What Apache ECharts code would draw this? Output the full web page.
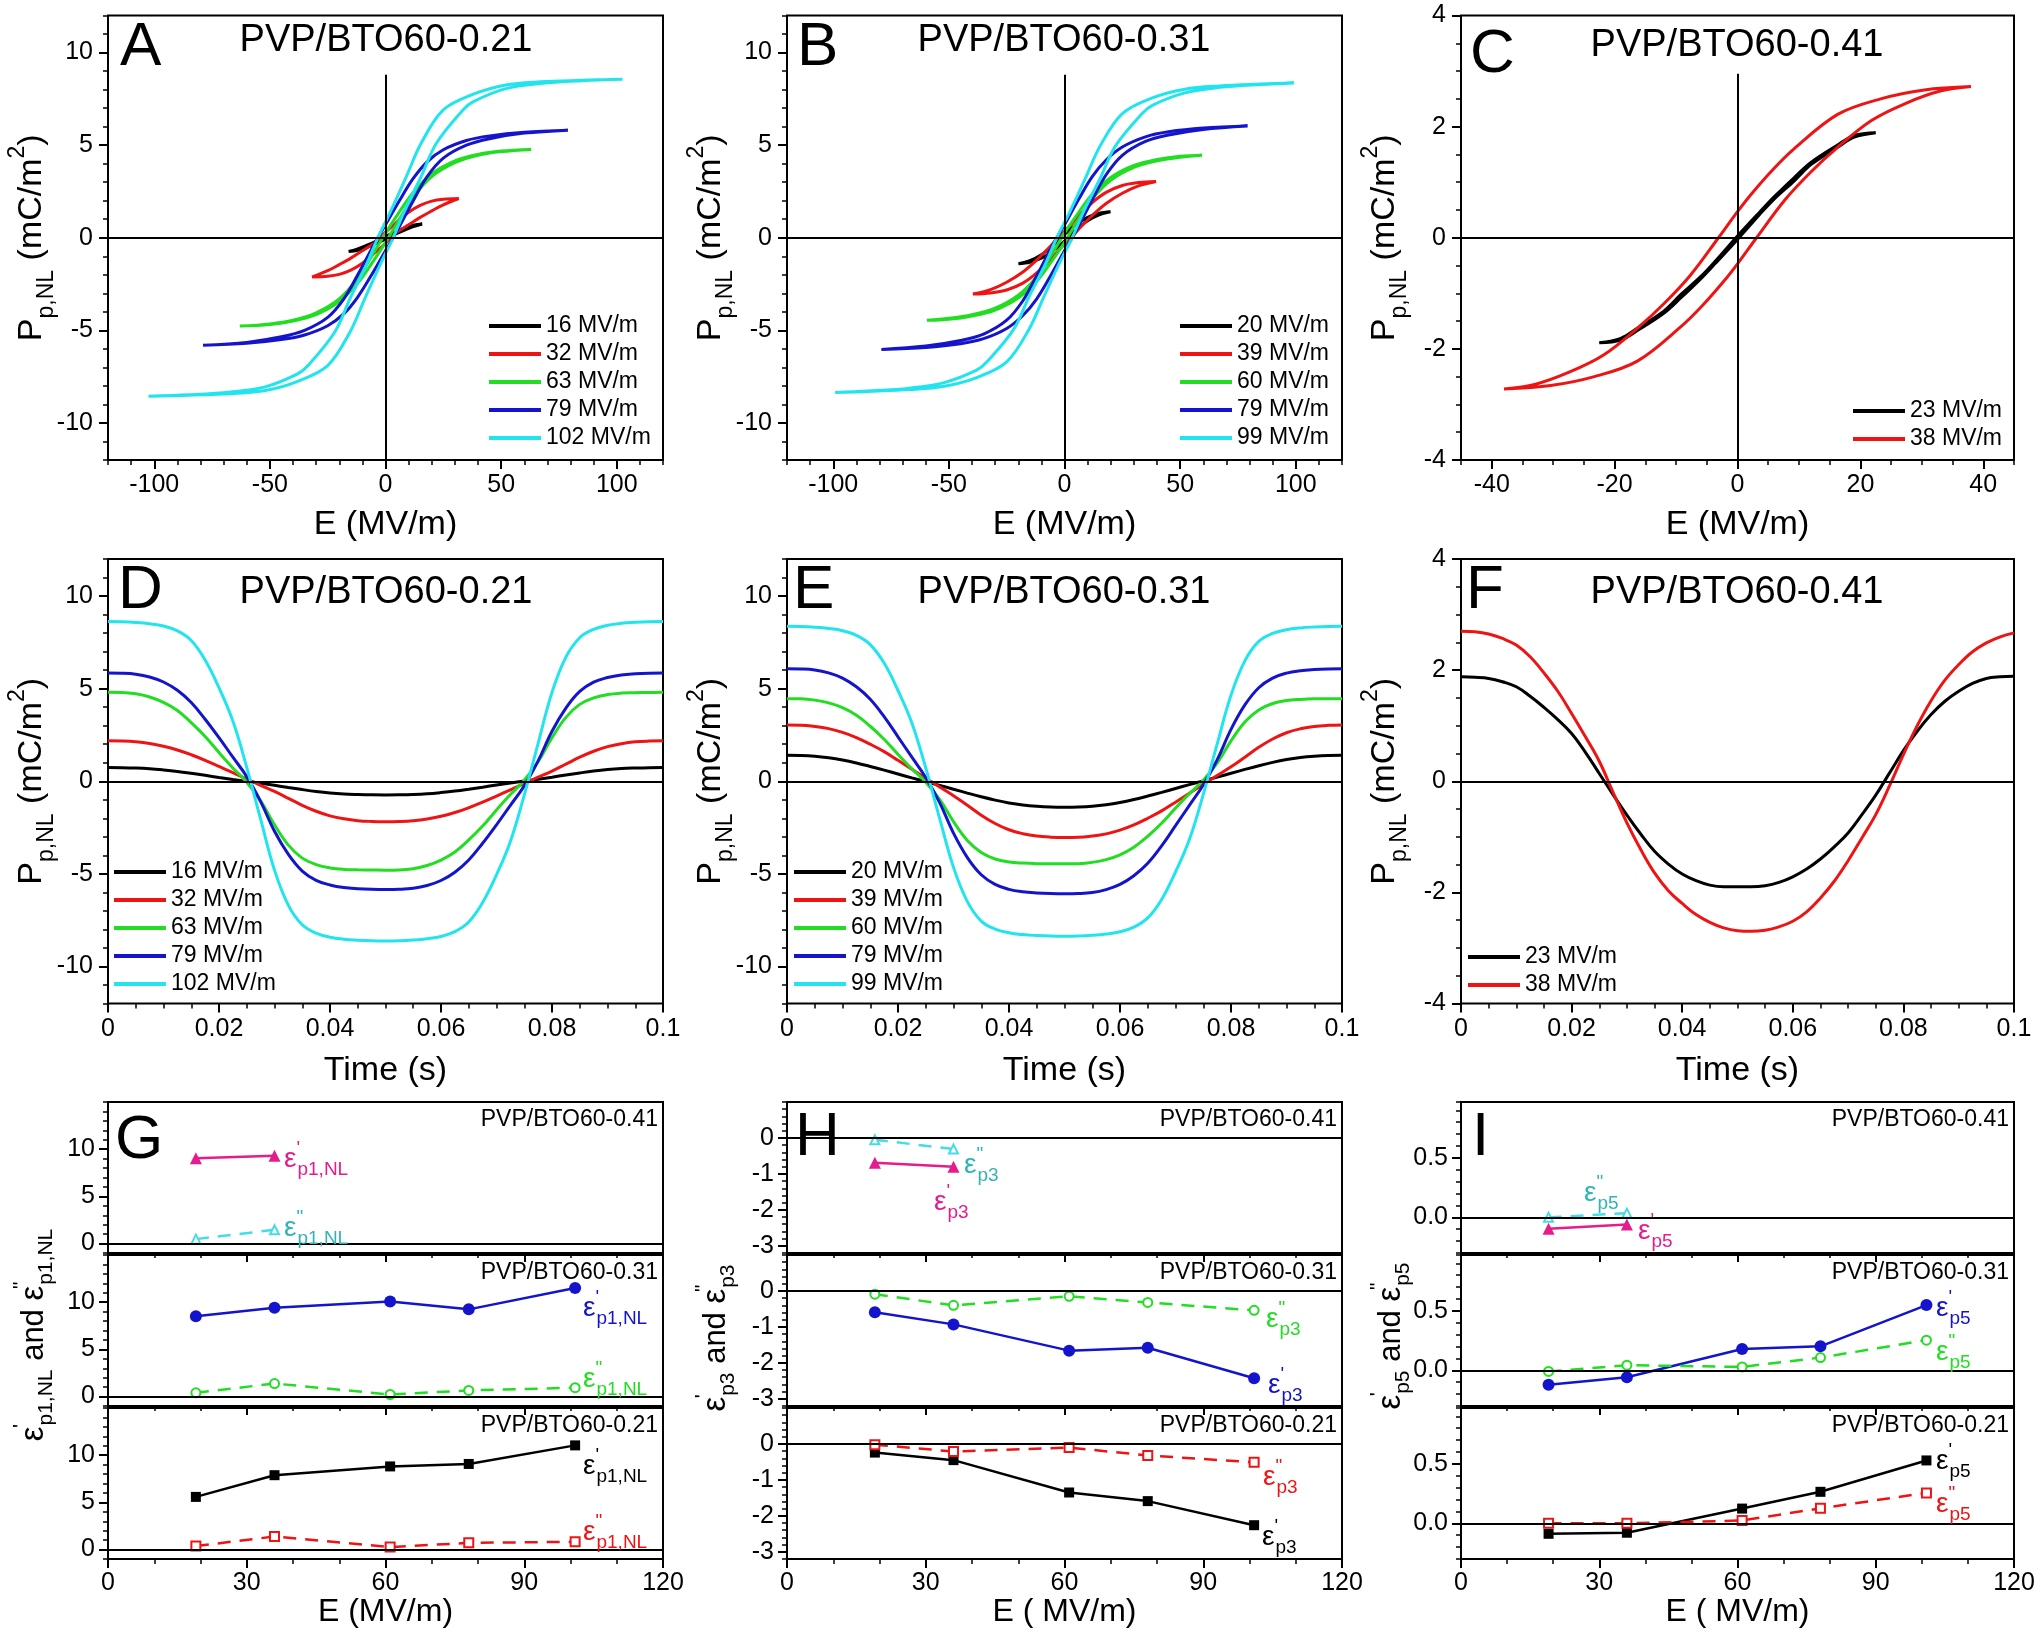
<!DOCTYPE html>
<html>
<head>
<meta charset="utf-8">
<script src="https://cdn.jsdelivr.net/npm/echarts@6/dist/echarts.min.js"></script>
<style>
  html, body { margin: 0; padding: 0; background: #fff; }
  #main { width: 2042px; height: 1635px; }
</style>
</head>
<body>
<div id="main"></div>
<script>
var FONT = 'Liberation Sans, Arial, sans-serif';
var BLACK = '#000000', RED = '#ee1414', GREEN = '#22dd22', BLUE = '#1414cc', CYAN = '#22e4ee';
var MAGENTA = '#e41c8c', TEAL = '#30b4b4', LCYAN = '#44dde6';

// ---------- A : P-E loops, PVP/BTO60-0.21 ----------
var namesA = ['16 MV/m', '32 MV/m', '63 MV/m', '79 MV/m', '102 MV/m'];
var loopA16 = [[15.9,0.74],[12,0.68],[8,0.52],[4,0.3],[0,0.07],[-4,-0.18],[-8,-0.4],[-12,-0.6],[-15.9,-0.74],
  [-12,-0.68],[-8,-0.52],[-4,-0.3],[0,-0.07],[4,0.18],[8,0.4],[12,0.6],[15.9,0.74]];
var loopA32 = [[31.7,2.12],[25,2.08],[20,1.98],[15,1.75],[10,1.38],[5,0.85],[0,0.3],[-5,-0.3],[-10,-0.7],[-15,-1.1],[-20,-1.45],[-25,-1.78],[-31.7,-2.12],
  [-25,-2.08],[-20,-1.98],[-15,-1.75],[-10,-1.38],[-5,-0.85],[0,-0.3],[5,0.3],[10,0.7],[15,1.1],[20,1.45],[25,1.78],[31.7,2.12]];
var loopA63 = [[63,4.77],[50,4.68],[40,4.5],[30,4.15],[20,3.45],[12,2.45],[6,1.4],[0,0.25],[-6,-1.0],[-12,-2.2],[-20,-3.3],[-30,-4.05],[-40,-4.45],[-50,-4.65],[-63,-4.77],
  [-50,-4.68],[-40,-4.5],[-30,-4.15],[-20,-3.45],[-12,-2.45],[-6,-1.4],[0,-0.25],[6,1.0],[12,2.2],[20,3.3],[30,4.05],[40,4.45],[50,4.65],[63,4.77]];
var loopA79 = [[78.9,5.81],[60,5.7],[45,5.5],[35,5.25],[25,4.75],[18,4.1],[12,3.2],[6,2.0],[0,0.7],[-3.3,0],[-6,-0.6],[-12,-2.0],[-18,-3.3],[-25,-4.3],[-35,-5.0],[-45,-5.35],[-60,-5.65],[-78.9,-5.81],
  [-60,-5.7],[-45,-5.5],[-35,-5.25],[-25,-4.75],[-18,-4.1],[-12,-3.2],[-6,-2.0],[0,-0.7],[3.3,0],[6,0.6],[12,2.0],[18,3.3],[25,4.3],[35,5.0],[45,5.35],[60,5.65],[78.9,5.81]];
var loopA102 = [[102.5,8.56],[85,8.5],[67,8.42],[52,8.25],[38,7.75],[25,6.9],[15.4,5.1],[9,3.3],[2.5,1.5],[-3.3,0],[-8.4,-1.5],[-15.4,-3.3],[-22,-5.1],[-33.5,-6.9],[-38,-7.35],[-52,-8.05],[-67,-8.33],[-85,-8.48],[-102.5,-8.56],
  [-85,-8.5],[-67,-8.42],[-52,-8.25],[-38,-7.75],[-25,-6.9],[-15.4,-5.1],[-9,-3.3],[-2.5,-1.5],[3.3,0],[8.4,1.5],[15.4,3.3],[22,5.1],[33.5,6.9],[38,7.35],[52,8.05],[67,8.33],[85,8.48],[102.5,8.56]];

// ---------- B : P-E loops, PVP/BTO60-0.31 ----------
var namesB = ['20 MV/m', '39 MV/m', '60 MV/m', '79 MV/m', '99 MV/m'];
var loopB20 = [[19.9,1.4],[15,1.32],[10,1.1],[5,0.72],[0,0.18],[-5,-0.42],[-10,-0.92],[-15,-1.24],[-19.9,-1.4],
  [-15,-1.32],[-10,-1.1],[-5,-0.72],[0,-0.18],[5,0.42],[10,0.92],[15,1.24],[19.9,1.4]];
var loopB39 = [[39.6,3.04],[32,2.98],[25,2.82],[18,2.45],[12,1.9],[6,1.15],[0,0.35],[-3,0],[-6,-0.45],[-12,-1.2],[-18,-1.85],[-25,-2.4],[-32,-2.8],[-39.6,-3.04],
  [-32,-2.98],[-25,-2.82],[-18,-2.45],[-12,-1.9],[-6,-1.15],[0,-0.35],[3,0],[6,0.45],[12,1.2],[18,1.85],[25,2.4],[32,2.8],[39.6,3.04]];
var loopB60 = [[59.5,4.46],[50,4.4],[40,4.22],[30,3.9],[20,3.25],[12,2.35],[6,1.35],[0,0.25],[-6,-1.0],[-12,-2.1],[-20,-3.1],[-30,-3.8],[-40,-4.15],[-50,-4.35],[-59.5,-4.46],
  [-50,-4.4],[-40,-4.22],[-30,-3.9],[-20,-3.25],[-12,-2.35],[-6,-1.35],[0,-0.25],[6,1.0],[12,2.1],[20,3.1],[30,3.8],[40,4.15],[50,4.35],[59.5,4.46]];
var loopB79 = [[79.2,6.03],[60,5.92],[45,5.72],[35,5.45],[25,4.9],[18,4.2],[12,3.3],[6,2.05],[0,0.7],[-3.3,0],[-6,-0.6],[-12,-2.05],[-18,-3.4],[-25,-4.45],[-35,-5.2],[-45,-5.55],[-60,-5.85],[-79.2,-6.03],
  [-60,-5.92],[-45,-5.72],[-35,-5.45],[-25,-4.9],[-18,-4.2],[-12,-3.3],[-6,-2.05],[0,-0.7],[3.3,0],[6,0.6],[12,2.05],[18,3.4],[25,4.45],[35,5.2],[45,5.55],[60,5.85],[79.2,6.03]];
var loopB99 = [[99.2,8.36],[85,8.3],[67,8.2],[52,8.02],[38,7.55],[25,6.7],[15.4,4.95],[9,3.2],[2.5,1.45],[-3.3,0],[-8.4,-1.45],[-15.4,-3.2],[-22,-4.95],[-33.5,-6.7],[-38,-7.15],[-52,-7.82],[-67,-8.12],[-85,-8.28],[-99.2,-8.36],
  [-85,-8.3],[-67,-8.2],[-52,-8.02],[-38,-7.55],[-25,-6.7],[-15.4,-4.95],[-9,-3.2],[-2.5,-1.45],[3.3,0],[8.4,1.45],[15.4,3.2],[22,4.95],[33.5,6.7],[38,7.15],[52,7.82],[67,8.12],[85,8.28],[99.2,8.36]];

// ---------- C : P-E loops, PVP/BTO60-0.41 ----------
var namesC = ['23 MV/m', '38 MV/m'];
var loopC23 = [[22.5,1.89],[19,1.84],[16.3,1.67],[12,1.36],[9.2,1.08],[6,0.74],[3.6,0.46],[0,0.03],[-3.6,-0.42],[-6,-0.7],[-9.2,-1.02],[-12,-1.32],[-16.3,-1.63],[-19,-1.81],[-22.5,-1.89],
  [-19,-1.84],[-16.3,-1.67],[-12,-1.36],[-9.2,-1.08],[-6,-0.74],[-3.6,-0.46],[0,-0.03],[3.6,0.42],[6,0.7],[9.2,1.02],[12,1.32],[16.3,1.63],[19,1.81],[22.5,1.89]];
var loopC38 = [[38,2.72],[30.4,2.66],[23.3,2.5],[16.3,2.22],[9.2,1.6],[5.7,1.22],[2.2,0.78],[0,0.47],[-3.1,0],[-7.7,-0.68],[-11.9,-1.18],[-16.1,-1.61],[-21.8,-2.11],[-27.4,-2.42],[-33,-2.64],[-38,-2.72],
  [-30.4,-2.66],[-23.3,-2.5],[-16.3,-2.22],[-9.2,-1.6],[-5.7,-1.22],[-2.2,-0.78],[0,-0.47],[3.1,0],[7.7,0.68],[11.9,1.18],[16.1,1.61],[21.8,2.11],[27.4,2.42],[33,2.64],[38,2.72]];

// ---------- D, E, F : P vs time ----------
var tD = [0,0.0025,0.005,0.0075,0.01,0.0125,0.015,0.0175,0.02,0.0225,0.025,0.0275,0.03,0.0325,0.035,0.0375,0.04,0.0425,0.045,0.0475,0.05,
  0.0525,0.055,0.0575,0.06,0.0625,0.065,0.0675,0.07,0.0725,0.075,0.0775,0.08,0.0825,0.085,0.0875,0.09,0.0925,0.095,0.0975,0.1];

var pD16 = [0.74,0.735,0.715,0.675,0.61,0.53,0.43,0.32,0.2,0.09,-0.01,-0.11,-0.22,-0.34,-0.45,-0.55,-0.63,-0.685,-0.715,-0.735,-0.74,
  -0.735,-0.715,-0.675,-0.61,-0.53,-0.43,-0.32,-0.2,-0.09,0.01,0.11,0.22,0.34,0.45,0.55,0.63,0.685,0.715,0.735,0.74];
var pD32 = [2.18,2.17,2.13,2.04,1.89,1.69,1.43,1.13,0.8,0.46,0.12,-0.22,-0.55,-0.92,-1.3,-1.62,-1.87,-2.03,-2.13,-2.17,-2.18,
  -2.17,-2.13,-2.04,-1.89,-1.69,-1.43,-1.13,-0.8,-0.46,-0.12,0.22,0.55,0.92,1.3,1.62,1.87,2.03,2.13,2.17,2.18];
var pD63 = [4.8,4.79,4.72,4.55,4.26,3.82,3.17,2.42,1.55,0.72,-0.05,-1.05,-2.35,-3.45,-4.15,-4.5,-4.68,-4.76,-4.78,-4.79,-4.8,
  -4.79,-4.72,-4.55,-4.26,-3.82,-3.17,-2.42,-1.55,-0.72,0.05,1.05,2.35,3.45,4.15,4.5,4.68,4.76,4.78,4.79,4.8];
var pD79 = [5.84,5.83,5.78,5.63,5.36,4.91,4.25,3.35,2.35,1.3,0.25,-1.1,-2.7,-3.95,-4.85,-5.35,-5.6,-5.74,-5.8,-5.83,-5.84,
  -5.83,-5.78,-5.63,-5.36,-4.91,-4.25,-3.35,-2.35,-1.3,-0.25,1.1,2.7,3.95,4.85,5.35,5.6,5.74,5.8,5.83,5.84];
var pD102 = [8.62,8.61,8.57,8.5,8.38,8.12,7.6,6.55,5.05,3.25,0.75,-2.05,-4.8,-6.7,-7.75,-8.2,-8.42,-8.53,-8.58,-8.61,-8.62,
  -8.61,-8.57,-8.5,-8.38,-8.12,-7.6,-6.55,-5.05,-3.25,-0.75,2.05,4.8,6.7,7.75,8.2,8.42,8.53,8.58,8.61,8.62];

var pE20 = [1.4,1.39,1.35,1.27,1.15,0.99,0.8,0.6,0.39,0.18,-0.02,-0.22,-0.43,-0.64,-0.84,-1.02,-1.17,-1.28,-1.35,-1.39,-1.4,
  -1.39,-1.35,-1.27,-1.15,-0.99,-0.8,-0.6,-0.39,-0.18,0.02,0.22,0.43,0.64,0.84,1.02,1.17,1.28,1.35,1.39,1.4];
var pE39 = [3.04,3.03,2.96,2.84,2.64,2.36,2.0,1.6,1.13,0.65,0.17,-0.31,-0.78,-1.3,-1.83,-2.28,-2.62,-2.83,-2.96,-3.02,-3.04,
  -3.03,-2.96,-2.84,-2.64,-2.36,-2.0,-1.6,-1.13,-0.65,-0.17,0.31,0.78,1.3,1.83,2.28,2.62,2.83,2.96,3.02,3.04];
var pE60 = [4.46,4.45,4.38,4.23,3.97,3.56,2.97,2.27,1.45,0.67,-0.05,-0.98,-2.18,-3.2,-3.85,-4.2,-4.36,-4.42,-4.45,-4.455,-4.46,
  -4.45,-4.38,-4.23,-3.97,-3.56,-2.97,-2.27,-1.45,-0.67,0.05,0.98,2.18,3.2,3.85,4.2,4.36,4.42,4.45,4.455,4.46];
var pE79 = [6.07,6.06,6.01,5.85,5.57,5.1,4.43,3.49,2.4,1.3,0.2,-1.15,-2.8,-4.12,-5.05,-5.57,-5.84,-5.97,-6.03,-6.06,-6.07,
  -6.06,-6.01,-5.85,-5.57,-5.1,-4.43,-3.49,-2.4,-1.3,-0.2,1.15,2.8,4.12,5.05,5.57,5.84,5.97,6.03,6.06,6.07];
var pE99 = [8.37,8.36,8.32,8.25,8.13,7.88,7.38,6.38,4.9,3.15,0.72,-2.0,-4.65,-6.5,-7.55,-7.98,-8.18,-8.28,-8.33,-8.36,-8.37,
  -8.36,-8.32,-8.25,-8.13,-7.88,-7.38,-6.38,-4.9,-3.15,-0.72,2.0,4.65,6.5,7.55,7.98,8.18,8.28,8.33,8.36,8.37];

var pF23 = [1.88,1.87,1.85,1.79,1.7,1.53,1.33,1.11,0.86,0.52,0.14,-0.24,-0.61,-0.95,-1.26,-1.49,-1.67,-1.79,-1.87,-1.9,-1.9,
  -1.9,-1.88,-1.82,-1.72,-1.58,-1.4,-1.18,-0.93,-0.6,-0.25,0.15,0.55,0.9,1.2,1.44,1.62,1.76,1.85,1.88,1.89];
var pF38 = [2.7,2.69,2.65,2.57,2.45,2.24,1.95,1.62,1.22,0.8,0.36,-0.2,-0.75,-1.23,-1.65,-1.97,-2.2,-2.4,-2.54,-2.64,-2.69,
  -2.7,-2.68,-2.62,-2.52,-2.35,-2.1,-1.8,-1.43,-1.02,-0.6,-0.08,0.48,1.0,1.45,1.82,2.1,2.33,2.49,2.6,2.67];

// ---------- G, H, I : harmonic permittivities vs E ----------
var field41 = [19, 36];
var field = [19, 36, 61, 78, 101];
var p1Re41 = [9.05, 9.3],  p1Im41 = [0.47, 1.46];
var p1Re31 = [8.5, 9.4, 10.07, 9.24, 11.5],  p1Im31 = [0.4, 1.38, 0.22, 0.65, 0.94];
var p1Re21 = [5.58, 7.88, 8.81, 9.07, 11.04], p1Im21 = [0.37, 1.38, 0.26, 0.71, 0.82];
var p3Re41 = [-0.69, -0.8], p3Im41 = [-0.05, -0.31];
var p3Re31 = [-0.59, -0.93, -1.66, -1.58, -2.43], p3Im31 = [-0.09, -0.4, -0.15, -0.32, -0.54];
var p3Re21 = [-0.24, -0.45, -1.35, -1.59, -2.26], p3Im21 = [-0.02, -0.21, -0.1, -0.32, -0.51];
var p5Re41 = [-0.096, -0.061], p5Im41 = [0.0, 0.035];
var p5Re31 = [-0.121, -0.058, 0.179, 0.202, 0.549], p5Im31 = [-0.009, 0.043, 0.029, 0.107, 0.254];
var p5Re21 = [-0.088, -0.079, 0.124, 0.265, 0.529], p5Im21 = [0.0, 0.0, 0.024, 0.126, 0.256];

var ticksPE = [-100, -50, 0, 50, 100];
var ticksP = [-10, -5, 0, 5, 10];
var ticksPEc = [-40, -20, 0, 20, 40];
var ticksPc = [-4, -2, 0, 2, 4];
var ticksT = [0, 0.02, 0.04, 0.06, 0.08, 0.1];
var ticksE = [0, 30, 60, 90, 120];

// ---------- layout ----------
var colL = [108, 787, 1461], colW = [555, 555, 553];
var rowT = [15.5, 559], rowH = 444.5;
var subT = [1102, 1255, 1408], subH = 151;

var option = {
  animation: false,
  backgroundColor: '#ffffff',
  textStyle: { fontFamily: FONT },
  grid: [], xAxis: [], yAxis: [], series: [], legend: [],
  graphic: { elements: [] }
};

var nameStyle34 = { fontSize: 34, color: '#000', fontFamily: FONT };
var nameStyle32 = { fontSize: 32, color: '#000', fontFamily: FONT };
var pName = '{m|P}{s|p,NL}{m| (mC/m}{u|2}{m|)}';
var pNameStyle = {
  color: '#000', fontFamily: FONT,
  rich: {
    m: { fontSize: 34, fontFamily: FONT, color: '#000', lineHeight: 52 },
    s: { fontSize: 23, fontFamily: FONT, color: '#000', lineHeight: 23, verticalAlign: 'bottom' },
    u: { fontSize: 23, fontFamily: FONT, color: '#000', lineHeight: 23, verticalAlign: 'top' }
  }
};

function mainAxis(dim, gi, s) {
  var isX = dim === 'x';
  var ax = {
    type: 'value', gridIndex: gi, min: s.min, max: s.max,
    position: isX ? 'bottom' : 'left',
    axisLine: { show: false, onZero: false },
    splitLine: { show: false },
    axisTick: { show: true, customValues: s.major, length: 9, lineStyle: { color: '#000', width: 2 } },
    axisLabel: {
      show: s.labels !== false, customValues: s.major, color: '#000', fontFamily: FONT,
      fontSize: 25, margin: s.margin, formatter: s.fmt || function (v) { return String(v); }
    },
    nameMoveOverlap: false
  };
  if (s.name) {
    ax.name = s.name;
    ax.nameLocation = 'middle';
    ax.nameGap = s.gap;
    ax.nameRotate = isX ? 0 : 90;
    ax.nameTextStyle = s.nameStyle;
  }
  return ax;
}

function minorAxis(dim, gi, s) {
  return {
    type: 'value', gridIndex: gi, min: s.min, max: s.max, interval: s.minor,
    position: dim === 'x' ? 'bottom' : 'left',
    axisLine: { show: false, onZero: false }, splitLine: { show: false }, axisLabel: { show: false },
    axisTick: { show: true, length: 5, lineStyle: { color: '#000', width: 1.5 } }
  };
}

function addPanel(box, xs, ys) {
  var gi = option.grid.length;
  option.grid.push({
    left: box[0], top: box[1], width: box[2], height: box[3], show: true,
    borderColor: '#000', borderWidth: 2, backgroundColor: 'rgba(0,0,0,0)',
    containLabel: false, outerBoundsMode: 'none'
  });
  var xi = option.xAxis.length;
  option.xAxis.push(mainAxis('x', gi, xs), minorAxis('x', gi, xs));
  var yi = option.yAxis.length;
  option.yAxis.push(mainAxis('y', gi, ys), minorAxis('y', gi, ys));
  return { x: xi, y: yi };
}

function refLines(list) {
  return {
    silent: true, symbol: ['none', 'none'], label: { show: false }, animation: false,
    emphasis: { disabled: true },
    lineStyle: { color: '#000', width: 2, type: 'solid' },
    data: list
  };
}

function pairs(xs, ys) {
  return xs.map(function (x, i) { return [x, ys[i]]; });
}

function addCurves(p, names, datas, colors, marks, smoothness) {
  datas.forEach(function (d, i) {
    option.series.push({
      type: 'line', name: names[i], xAxisIndex: p.x, yAxisIndex: p.y, data: d,
      symbol: 'none', smooth: smoothness,
      lineStyle: { color: colors[i], width: 3 }, itemStyle: { color: colors[i] },
      emphasis: { disabled: true }, z: 3,
      markLine: i === 0 ? refLines(marks) : undefined
    });
  });
}

function addLegend(names, left, top) {
  option.legend.push({
    orient: 'vertical', left: left, top: top, padding: 0, itemGap: 0,
    icon: 'rect', itemWidth: 52, itemHeight: 4, selectedMode: false, data: names,
    textStyle: { fontSize: 23, color: '#000', fontFamily: FONT, lineHeight: 28 }
  });
}

function addEps(p, xs, re, im, sym, reColor, imColor) {
  option.series.push({
    type: 'line', xAxisIndex: p.x, yAxisIndex: p.y, data: pairs(xs, re),
    symbol: sym, symbolSize: sym === 'rect' ? 10 : 12, showSymbol: true,
    lineStyle: { color: reColor, width: 2.5 }, itemStyle: { color: reColor },
    emphasis: { disabled: true }, z: 4,
    markLine: refLines([{ yAxis: 0 }])
  });
  option.series.push({
    type: 'line', xAxisIndex: p.x, yAxisIndex: p.y, data: pairs(xs, im),
    symbol: 'empty' + sym.charAt(0).toUpperCase() + sym.slice(1), symbolSize: 9, showSymbol: true,
    lineStyle: { color: imColor, width: 2.5, type: [13, 9] }, itemStyle: { color: imColor, borderWidth: 1.5 },
    emphasis: { disabled: true }, z: 4
  });
}

function txt(x, y, s, size, o) {
  o = o || {};
  option.graphic.elements.push({
    type: 'text', x: x, y: y, rotation: o.rot || 0, silent: true, z: 50,
    style: {
      text: s, fill: o.color || '#000', fontSize: size, fontFamily: FONT,
      align: o.align || 'left', verticalAlign: o.va || 'middle', rich: o.rich
    }
  });
}

function epsRich(color, big, small, lh) {
  return {
    e: { fontSize: big, fontFamily: FONT, fill: color, color: color, lineHeight: lh },
    m: { fontSize: big - 2, fontFamily: FONT, fill: color, color: color, lineHeight: lh },
    p: { fontSize: small, fontFamily: FONT, fill: color, color: color, lineHeight: small, verticalAlign: 'top', width: 1 },
    s: { fontSize: small, fontFamily: FONT, fill: color, color: color, lineHeight: small, verticalAlign: 'bottom' }
  };
}
function epsLabel(x, y, mark, sub, color) {
  txt(x, y, '{e|ε}{p|' + mark + '}{s|' + sub + '}', 28, { color: color, rich: epsRich(color, 28, 19, 40) });
}

// ---------- top two rows ----------
var five = [BLACK, RED, GREEN, BLUE, CYAN];
var two = [BLACK, RED];
var yBig = { min: -12, max: 12, major: ticksP, minor: 1, margin: 15, name: pName, gap: 50, nameStyle: pNameStyle };
var ySmall = { min: -4, max: 4, major: ticksPc, minor: 0.5, margin: 15, name: pName, gap: 50, nameStyle: pNameStyle };
var xPE = { min: -120, max: 120, major: ticksPE, minor: 10, margin: 13, name: 'E (MV/m)', gap: 48, nameStyle: nameStyle34 };
var xPEc = { min: -45, max: 45, major: ticksPEc, minor: 5, margin: 13, name: 'E (MV/m)', gap: 48, nameStyle: nameStyle34 };
var xT = { min: 0, max: 0.1, major: ticksT, minor: 0.005, margin: 13, name: 'Time (s)', gap: 50, nameStyle: nameStyle34 };

var pA = addPanel([colL[0], rowT[0], colW[0], rowH], xPE, yBig);
addCurves(pA, namesA, [loopA16, loopA32, loopA63, loopA79, loopA102], five,
  [{ yAxis: 0 }, [{ coord: [0, -12] }, { coord: [0, 8.8] }]], 0.35);
var pB = addPanel([colL[1], rowT[0], colW[1], rowH], xPE, yBig);
addCurves(pB, namesB, [loopB20, loopB39, loopB60, loopB79, loopB99], five,
  [{ yAxis: 0 }, [{ coord: [0, -12] }, { coord: [0, 8.8] }]], 0.35);
var pC = addPanel([colL[2], rowT[0], colW[2], rowH], xPEc, ySmall);
addCurves(pC, namesC, [loopC23, loopC38], two,
  [{ yAxis: 0 }, [{ coord: [0, -4] }, { coord: [0, 2.95] }]], 0.35);

var pD = addPanel([colL[0], rowT[1], colW[0], rowH], xT, yBig);
addCurves(pD, namesA, [pairs(tD, pD16), pairs(tD, pD32), pairs(tD, pD63), pairs(tD, pD79), pairs(tD, pD102)], five, [{ yAxis: 0 }], 0.4);
var pE = addPanel([colL[1], rowT[1], colW[1], rowH], xT, yBig);
addCurves(pE, namesB, [pairs(tD, pE20), pairs(tD, pE39), pairs(tD, pE60), pairs(tD, pE79), pairs(tD, pE99)], five, [{ yAxis: 0 }], 0.4);
var pF = addPanel([colL[2], rowT[1], colW[2], rowH], xT, ySmall);
addCurves(pF, namesC, [pairs(tD, pF23), pairs(tD, pF38)], two, [{ yAxis: 0 }], 0.4);

addLegend(namesA, 489, 312);
addLegend(namesB, 1180, 312);
addLegend(namesC, 1853, 397);
addLegend(namesA, 114, 858);
addLegend(namesB, 794, 858);
addLegend(namesC, 1468, 943);

// ---------- bottom row ----------
var yG = { min: -1, max: 15, major: [0, 5, 10], minor: 1, margin: 13 };
var yH = { min: -3.2, max: 1, major: [-3, -2, -1, 0], minor: 0.2, margin: 13 };
var yI = { min: -0.3, max: 0.97, major: [0, 0.5], minor: 0.1, margin: 13, fmt: function (v) { return v.toFixed(1); } };
function xRow(last, name) {
  return { min: 0, max: 120, major: ticksE, minor: 10, margin: 12, labels: last,
    name: last ? name : null, gap: 37, nameStyle: nameStyle32 };
}
var cols3 = [
  { y: yG, name: 'E (MV/m)', sets: [[p1Re41, p1Im41], [p1Re31, p1Im31], [p1Re21, p1Im21]] },
  { y: yH, name: 'E ( MV/m)', sets: [[p3Re41, p3Im41], [p3Re31, p3Im31], [p3Re21, p3Im21]] },
  { y: yI, name: 'E ( MV/m)', sets: [[p5Re41, p5Im41], [p5Re31, p5Im31], [p5Re21, p5Im21]] }
];
var subStyle = [
  { xs: field41, sym: 'triangle', re: MAGENTA, im: LCYAN, title: 'PVP/BTO60-0.41' },
  { xs: field, sym: 'circle', re: BLUE, im: GREEN, title: 'PVP/BTO60-0.31' },
  { xs: field, sym: 'rect', re: BLACK, im: RED, title: 'PVP/BTO60-0.21' }
];
cols3.forEach(function (c, ci) {
  for (var k = 0; k < 3; k++) {
    var p = addPanel([colL[ci], subT[k], colW[ci], subH], xRow(k === 2, c.name), c.y);
    var st = subStyle[k];
    addEps(p, st.xs, c.sets[k][0], c.sets[k][1], st.sym, st.re, st.im);
    txt(colL[ci] + colW[ci] - 5, subT[k] + 18, st.title, 23, { align: 'right' });
  }
});

// ---------- texts ----------
var letters = [['A', 120, 48], ['B', 797, 48], ['C', 1470, 55], ['D', 118, 591], ['E', 793, 591], ['F', 1466, 591],
  ['G', 115, 1141], ['H', 795, 1138], ['I', 1472, 1138]];
letters.forEach(function (l) { txt(l[1], l[2], l[0], 62); });
var titles = [['PVP/BTO60-0.21', 386, 41], ['PVP/BTO60-0.31', 1064, 41], ['PVP/BTO60-0.41', 1737, 46],
  ['PVP/BTO60-0.21', 386, 593], ['PVP/BTO60-0.31', 1064, 593], ['PVP/BTO60-0.41', 1737, 593]];
titles.forEach(function (t) { txt(t[1], t[2], t[0], 38, { align: 'center' }); });

// curve annotations in G, H, I
epsLabel(284, 1159, "'", 'p1,NL', MAGENTA);
epsLabel(284, 1228, '"', 'p1,NL', TEAL);
epsLabel(583, 1308, "'", 'p1,NL', BLUE);
epsLabel(583, 1379, '"', 'p1,NL', GREEN);
epsLabel(583, 1466, "'", 'p1,NL', BLACK);
epsLabel(583, 1532, '"', 'p1,NL', RED);

epsLabel(964, 1165, '"', 'p3', TEAL);
epsLabel(934, 1202, "'", 'p3', MAGENTA);
epsLabel(1266, 1319, '"', 'p3', GREEN);
epsLabel(1268, 1385, "'", 'p3', BLUE);
epsLabel(1263, 1477, '"', 'p3', RED);
epsLabel(1262, 1537, "'", 'p3', BLACK);

epsLabel(1584, 1193, '"', 'p5', TEAL);
epsLabel(1638, 1231, "'", 'p5', MAGENTA);
epsLabel(1936, 1308, "'", 'p5', BLUE);
epsLabel(1936, 1352, '"', 'p5', GREEN);
epsLabel(1936, 1461, "'", 'p5', BLACK);
epsLabel(1936, 1504, '"', 'p5', RED);

// rotated y titles of the bottom row
function yTitle(x, y, sub) {
  var s = '{e|ε}{p|\'}{s|' + sub + '}{m| and }{e|ε}{p|"}{s|' + sub + '}';
  txt(x, y, s, 33, { rot: Math.PI / 2, align: 'center', rich: epsRich('#000', 33, 21, 46) });
}
yTitle(34, 1335, 'p1,NL');
yTitle(716, 1338, 'p3');
yTitle(1391, 1336, 'p5');

var chart = echarts.init(document.getElementById('main'), null, { renderer: 'canvas' });
chart.setOption(option);
</script>
</body>
</html>
